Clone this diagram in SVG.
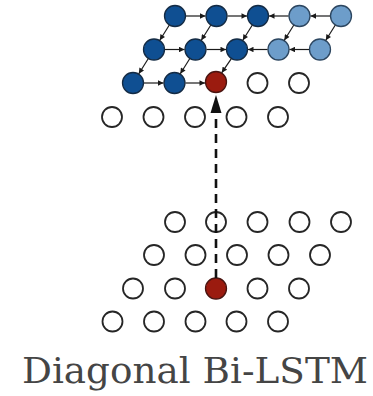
<svg xmlns="http://www.w3.org/2000/svg" width="373" height="396" viewBox="0 0 373 396">
  <defs>
    <marker id="tip" viewBox="0 0 10 10" refX="10" refY="5" markerWidth="6.5" markerHeight="5.5" markerUnits="userSpaceOnUse" orient="auto">
      <path d="M0,0 L10,5 L0,10 z" fill="#1a1a1a"/>
    </marker>
    <style>
      .node { stroke-width: 1.3; }
      .dark { fill: #0f4f92; stroke: #142b44; }
      .light { fill: #6d9dca; stroke: #2c4660; }
      .red { fill: #9b1b0f; stroke: #4a1410; }
      .empty { fill: #ffffff; stroke: #262626; stroke-width: 1.8; }
      .link { stroke: #1a1a1a; stroke-width: 1.2; fill: none; marker-end: url(#tip); }
      .label { font-family: "DejaVu Serif", "Liberation Serif", serif; font-size: 35px; fill: #454545; }
    </style>
  </defs>
  <rect width="373" height="396" fill="#ffffff"/>

  <!-- upper grid: hidden states being computed -->
  <g id="upper-row1">
    <circle class="node dark" cx="175" cy="16" r="10.5"/>
    <circle class="node dark" cx="216.5" cy="16" r="10.5"/>
    <circle class="node dark" cx="258" cy="16" r="10.5"/>
    <circle class="node light" cx="299.5" cy="16" r="10.5"/>
    <circle class="node light" cx="341" cy="16" r="10.5"/>
  </g>
  <g id="upper-row2">
    <circle class="node dark" cx="154" cy="49.5" r="10.5"/>
    <circle class="node dark" cx="195.5" cy="49.5" r="10.5"/>
    <circle class="node dark" cx="237" cy="49.5" r="10.5"/>
    <circle class="node light" cx="278.5" cy="49.5" r="10.5"/>
    <circle class="node light" cx="320" cy="49.5" r="10.5"/>
  </g>
  <g id="upper-row3">
    <circle class="node dark" cx="133" cy="83" r="10.5"/>
    <circle class="node dark" cx="174.5" cy="83" r="10.5"/>
    <circle class="node red" cx="216" cy="82" r="10.5"/>
    <circle class="empty" cx="257.5" cy="83" r="10"/>
    <circle class="empty" cx="299" cy="83" r="10"/>
  </g>
  <g id="upper-row4">
    <circle class="empty" cx="112" cy="117" r="10"/>
    <circle class="empty" cx="153.5" cy="117" r="10"/>
    <circle class="empty" cx="195" cy="117" r="10"/>
    <circle class="empty" cx="236.5" cy="117" r="10"/>
    <circle class="empty" cx="278" cy="117" r="10"/>
  </g>

  <!-- lower grid: input map -->
  <g id="lower-row1">
    <circle class="empty" cx="175" cy="222" r="10"/>
    <circle class="empty" cx="216" cy="222" r="10"/>
    <circle class="empty" cx="257.5" cy="222" r="10"/>
    <circle class="empty" cx="299.5" cy="222" r="10"/>
    <circle class="empty" cx="341" cy="222" r="10"/>
  </g>
  <g id="lower-row2">
    <circle class="empty" cx="154" cy="255" r="10"/>
    <circle class="empty" cx="195.5" cy="255" r="10"/>
    <circle class="empty" cx="237" cy="255" r="10"/>
    <circle class="empty" cx="278.5" cy="255" r="10"/>
    <circle class="empty" cx="320" cy="255" r="10"/>
  </g>
  <g id="lower-row3">
    <circle class="empty" cx="133" cy="288.5" r="10"/>
    <circle class="empty" cx="175" cy="288.5" r="10"/>
    <circle class="node red" cx="216" cy="288.5" r="10.5"/>
    <circle class="empty" cx="257.5" cy="288.5" r="10"/>
    <circle class="empty" cx="299" cy="288.5" r="10"/>
  </g>
  <g id="lower-row4">
    <circle class="empty" cx="112.5" cy="321.5" r="10"/>
    <circle class="empty" cx="154" cy="321.5" r="10"/>
    <circle class="empty" cx="195.5" cy="321.5" r="10"/>
    <circle class="empty" cx="236.5" cy="321.5" r="10"/>
    <circle class="empty" cx="278" cy="321.5" r="10"/>
  </g>

  <g id="connectors">
    <!-- horizontal recurrences -->
    <line class="link" x1="186" y1="16" x2="205.5" y2="16"/>
    <line class="link" x1="227.5" y1="16" x2="247" y2="16"/>
    <line class="link" x1="288.5" y1="16" x2="269" y2="16"/>
    <line class="link" x1="330" y1="16" x2="310.5" y2="16"/>
    <line class="link" x1="165" y1="49.5" x2="184.5" y2="49.5"/>
    <line class="link" x1="206.5" y1="49.5" x2="226" y2="49.5"/>
    <line class="link" x1="267.5" y1="49.5" x2="248" y2="49.5"/>
    <line class="link" x1="309" y1="49.5" x2="289.5" y2="49.5"/>
    <line class="link" x1="144" y1="83" x2="163.5" y2="83"/>
    <line class="link" x1="185.5" y1="83" x2="205" y2="83"/>
    <!-- diagonal recurrences -->
    <line class="link" x1="169.2" y1="25.3" x2="159.8" y2="40.2"/>
    <line class="link" x1="210.7" y1="25.3" x2="201.3" y2="40.2"/>
    <line class="link" x1="252.2" y1="25.3" x2="242.8" y2="40.2"/>
    <line class="link" x1="293.7" y1="25.3" x2="284.3" y2="40.2"/>
    <line class="link" x1="335.2" y1="25.3" x2="325.8" y2="40.2"/>
    <line class="link" x1="148.2" y1="58.8" x2="138.8" y2="73.7"/>
    <line class="link" x1="189.7" y1="58.8" x2="180.3" y2="73.7"/>
    <line class="link" x1="231.2" y1="58.8" x2="221.8" y2="72.7"/>
    <!-- input to hidden state -->
    <line x1="216" y1="278" x2="216" y2="110" stroke="#111111" stroke-width="2.6" stroke-dasharray="9 6"/>
    <path d="M216,95 L221.5,113 L210.5,113 z" fill="#111111"/>
  </g>

  <text class="label" x="22" y="383" textLength="346" lengthAdjust="spacingAndGlyphs">Diagonal Bi-LSTM</text>
</svg>
